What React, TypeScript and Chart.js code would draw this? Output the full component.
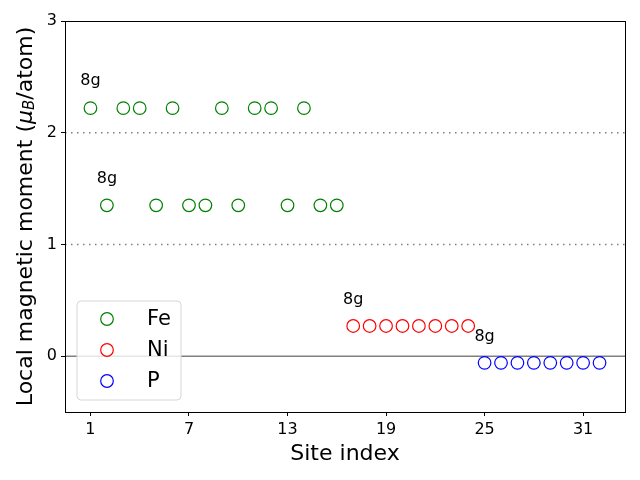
import React, { useEffect, useRef } from "react";
import { Chart, registerables } from "chart.js";

Chart.register(...registerables);

const feSites = [1, 2, 3, 4, 5, 6, 7, 8, 9, 10, 11, 12, 13, 14, 15, 16];
const feMoments = [2.22, 1.35, 2.22, 2.22, 1.35, 2.22, 1.35, 1.35, 2.22, 1.35, 2.22, 2.22, 1.35, 2.22, 1.35, 1.35];
const niSites = [17, 18, 19, 20, 21, 22, 23, 24];
const niMoments = [0.27, 0.27, 0.27, 0.27, 0.27, 0.27, 0.27, 0.27];
const pSites = [25, 26, 27, 28, 29, 30, 31, 32];
const pMoments = [-0.06, -0.06, -0.06, -0.06, -0.06, -0.06, -0.06, -0.06];

const seriesNames = ["Fe", "Ni", "P"];
const seriesColors = ["#008000", "#ff0000", "#0000ff"];

const annotLabels = ["8g", "8g", "8g", "8g"];
const annotSites = [1, 2, 17, 25];
const annotY = [2.43, 1.55, 0.47, 0.14];

const xTicks = [1, 7, 13, 19, 25, 31];
const yTicks = [0, 1, 2, 3];
const dottedLines = [1, 2];
const solidLines = [0];

const xTitle = "Site index";

const FONT = "'DejaVu Sans', sans-serif";

const toPts = (xs: number[], ys: number[]) => xs.map((x, i) => ({ x, y: ys[i] }));

export default function App() {
  const ref = useRef<HTMLCanvasElement | null>(null);

  useEffect(() => {
    document.body.style.margin = "0";
    const canvas = ref.current!;
    const refLines = {
      id: "refLines",
      beforeDatasetsDraw(chart: any) {
        const { ctx, chartArea, scales } = chart;
        ctx.save();
        ctx.strokeStyle = "#808080";
        ctx.lineWidth = 1.5;
        ctx.setLineDash([1.5, 4.5]);
        dottedLines.forEach((v) => {
          const y = scales.y.getPixelForValue(v);
          ctx.beginPath();
          ctx.moveTo(chartArea.left, y);
          ctx.lineTo(chartArea.right, y);
          ctx.stroke();
        });
        ctx.setLineDash([]);
        solidLines.forEach((v) => {
          const y = scales.y.getPixelForValue(v);
          ctx.beginPath();
          ctx.moveTo(chartArea.left, y);
          ctx.lineTo(chartArea.right, y);
          ctx.stroke();
        });
        ctx.restore();
      },
      afterDraw(chart: any) {
        const { ctx, chartArea, scales } = chart;
        ctx.save();
        // frame
        ctx.strokeStyle = "#000";
        ctx.lineWidth = 1;
        ctx.strokeRect(
          Math.round(chartArea.left) + 0.5,
          Math.round(chartArea.top) + 0.5,
          Math.round(chartArea.right - chartArea.left),
          Math.round(chartArea.bottom - chartArea.top)
        );
        // annotations
        ctx.fillStyle = "#000";
        ctx.font = `16px ${FONT}`;
        ctx.textAlign = "center";
        ctx.textBaseline = "alphabetic";
        annotLabels.forEach((t, i) => {
          ctx.fillText(t, scales.x.getPixelForValue(annotSites[i]), scales.y.getPixelForValue(annotY[i]));
        });
        // x title
        ctx.font = `22px ${FONT}`;
        ctx.textAlign = "center";
        ctx.textBaseline = "middle";
        ctx.fillText(xTitle, (chartArea.left + chartArea.right) / 2, 454);
        // legend
        const bx = 77, by = 301, bw = 104, bh = 99, r = 4;
        ctx.beginPath();
        ctx.moveTo(bx + r, by);
        ctx.arcTo(bx + bw, by, bx + bw, by + bh, r);
        ctx.arcTo(bx + bw, by + bh, bx, by + bh, r);
        ctx.arcTo(bx, by + bh, bx, by, r);
        ctx.arcTo(bx, by, bx + bw, by, r);
        ctx.closePath();
        ctx.fillStyle = "rgba(255,255,255,0.8)";
        ctx.fill();
        ctx.strokeStyle = "#d6d6d6";
        ctx.lineWidth = 1;
        ctx.stroke();
        ctx.font = `21px ${FONT}`;
        ctx.textAlign = "left";
        ctx.textBaseline = "middle";
        seriesNames.forEach((n, i) => {
          const cy = 319 + i * 31;
          ctx.beginPath();
          ctx.arc(107, cy, 6.3, 0, Math.PI * 2);
          ctx.strokeStyle = seriesColors[i];
          ctx.lineWidth = 1.2;
          ctx.stroke();
          ctx.fillStyle = "#000";
          ctx.fillText(n, 147, cy + 1);
        });
        // y axis title with subscript
        const cx = 26;
        const cyT = (chartArea.top + chartArea.bottom) / 2;
        ctx.translate(cx, cyT);
        ctx.rotate(-Math.PI / 2);
        const parts = [
          { t: "Local magnetic moment (", f: `22px ${FONT}`, dy: 0 },
          { t: "μ", f: `italic 22px ${FONT}`, dy: 0 },
          { t: "B", f: `italic 15px ${FONT}`, dy: 4 },
          { t: "/atom)", f: `22px ${FONT}`, dy: 0 },
        ];
        let total = 0;
        parts.forEach((p) => {
          ctx.font = p.f;
          total += ctx.measureText(p.t).width;
        });
        let x = -total / 2;
        ctx.textAlign = "left";
        ctx.textBaseline = "middle";
        ctx.fillStyle = "#000";
        parts.forEach((p) => {
          ctx.font = p.f;
          ctx.fillText(p.t, x, p.dy);
          x += ctx.measureText(p.t).width;
        });
        ctx.restore();
      },
    };

    const chart = new Chart(canvas, {
      type: "scatter",
      data: {
        datasets: [
          { label: seriesNames[0], data: toPts(feSites, feMoments), borderColor: seriesColors[0] },
          { label: seriesNames[1], data: toPts(niSites, niMoments), borderColor: seriesColors[1] },
          { label: seriesNames[2], data: toPts(pSites, pMoments), borderColor: seriesColors[2] },
        ].map((d) => ({
          ...d,
          backgroundColor: "rgba(0,0,0,0)",
          pointRadius: 6.3,
          pointBorderWidth: 1.2,
          pointHoverRadius: 6.3,
        })),
      },
      plugins: [refLines],
      options: {
        animation: false,
        responsive: false,
        devicePixelRatio: 1,
        events: [],
        layout: { padding: { left: 0, top: 21, right: 15, bottom: 0 } },
        plugins: { legend: { display: false }, tooltip: { enabled: false } },
        scales: {
          x: {
            type: "linear",
            min: -0.55,
            max: 33.55,
            afterBuildTicks: (s: any) => {
              s.ticks = xTicks.map((v) => ({ value: v }));
            },
            afterFit: (s: any) => {
              s.height = 68;
            },
            ticks: { color: "#000", font: { family: FONT, size: 16 }, padding: 4, autoSkip: false, maxRotation: 0 },
            grid: { drawOnChartArea: false, tickLength: 4, color: "#000" },
            border: { display: false },
          },
          y: {
            type: "linear",
            min: -0.5,
            max: 3,
            afterBuildTicks: (s: any) => {
              s.ticks = yTicks.map((v) => ({ value: v }));
            },
            afterFit: (s: any) => {
              s.width = 65;
            },
            ticks: { color: "#000", font: { family: FONT, size: 16 }, padding: 4 },
            grid: { drawOnChartArea: false, tickLength: 4, color: "#000" },
            border: { display: false },
          },
        },
      },
    } as any);
    return () => chart.destroy();
  }, []);

  return (
    <div style={{ width: 640, height: 480 }}>
      <canvas ref={ref} width={640} height={480} />
    </div>
  );
}
